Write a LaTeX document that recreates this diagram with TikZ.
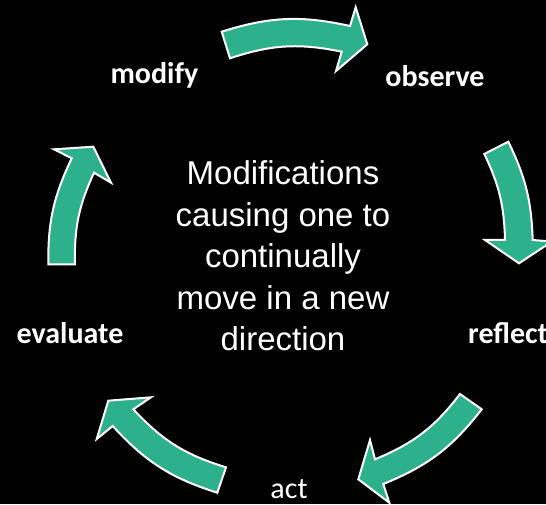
\documentclass[tikz,border=0pt]{standalone}
\usepackage{fontspec}
\setmainfont{Liberation Sans}
\newfontfamily\lblfont{Carlito}
\definecolor{arrowteal}{RGB}{45,177,141}
\tikzset{
  cyc/.style={fill=arrowteal, draw=white, line width=2pt, line join=miter},
  lbl/.style={text=white, inner sep=0pt, anchor=base, font=\lblfont\bfseries\fontsize{30}{36}\selectfont},
  lblreg/.style={text=white, inner sep=0pt, anchor=base, font=\lblfont\fontsize{30}{36}\selectfont},
  ctrtext/.style={text=white, inner sep=0pt, align=center, font=\fontsize{33}{41.5}\selectfont}
}
\begin{document}
\begin{tikzpicture}[x=1pt,y=1pt]
\fill[black] (0,0) rectangle (546,504);
\useasboundingbox (0,0) rectangle (546,504);
% top arrow (modify -> observe)
\draw[cyc] (221.7,472.3) to[bend left=15] (350,478) -- (355.7,496.7) -- (367.3,459.7) -- (336,433) -- (341.7,452.3) to[bend right=15] (230,445.7) -- cycle;
% right arrow (observe -> reflect)
\draw[cyc] (508.3,362.3) to[bend left=12] (532.7,264) -- (552,262.5) -- (519,240.7) -- (485,264) -- (505,264) to[bend right=12] (484.3,350) -- cycle;
% bottom-right arrow (reflect -> act)
\draw[cyc] (481.7,94.7) to[bend left=15] (383.3,20) -- (389.3,1.3) -- (358.3,24.7) -- (370,64) -- (375,44.7) to[bend right=15] (460,110) -- cycle;
% bottom-left arrow (act -> evaluate)
\draw[cyc] (217.3,11.3) to[bend left=15] (112.7,78) -- (96.7,65) -- (108.3,103.3) -- (151,106.7) -- (133.3,94.7) to[bend right=15] (226,36.7) -- cycle;
% left arrow (evaluate -> modify)
\draw[cyc] (48.3,239.7) to[bend left=13] (71.7,345.7) -- (54,354.7) -- (93.3,357.3) -- (111,321.3) -- (94,331.3) to[bend right=13] (75,239.7) -- cycle;
% labels
\node[lbl] (modify) at (154.5,420.7) {modify};
\node[lbl] (observe) at (435,417.3) {observe};
\node[lbl, anchor=base west] (reflect) at (468,161) {reflect};
\node[lblreg] (act) at (289,6) {act};
\node[lbl] (evaluate) at (70,161) {evaluate};
% centre text
\node[ctrtext] (centre) at (283,248) {Modifications\\causing one to\\continually\\move in a new\\direction};
\end{tikzpicture}
\end{document}
